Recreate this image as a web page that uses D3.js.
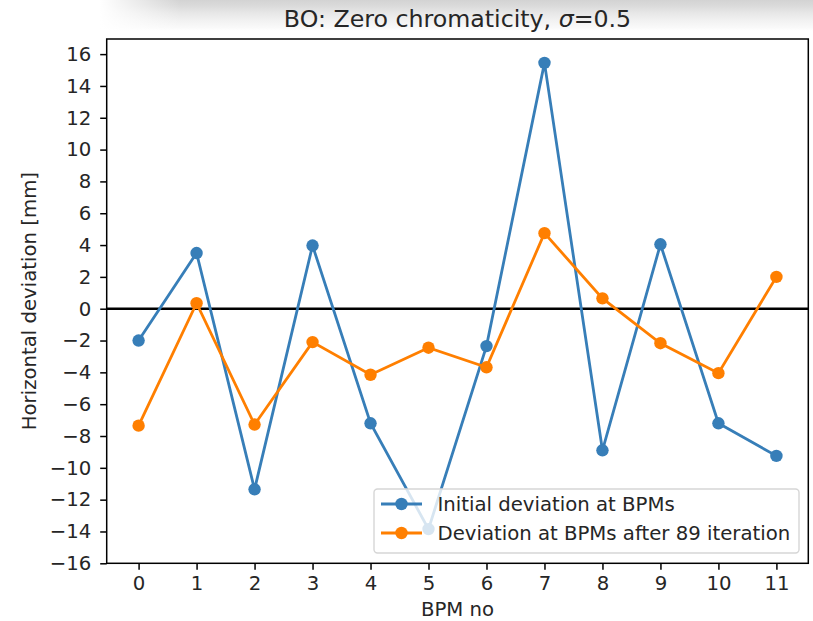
<!DOCTYPE html>
<meta charset="utf-8">
<style>

body {
  margin: 0;
  background: #fff;
}

text {
  font-family: "DejaVu Sans", sans-serif;
  fill: #262626;
}

.axis path, .axis line {
  stroke: #000;
  stroke-width: 1.5px;
}

</style>
<body>
</body>
<script src="https://cdn.jsdelivr.net/npm/d3@7"></script>
<script>

var bpm = [0, 1, 2, 3, 4, 5, 6, 7, 8, 9, 10, 11];
var initial = [-2.0, 3.5, -11.35, 3.97, -7.2, -13.85, -2.35, 15.45, -8.9, 4.05, -7.2, -9.25];
var after = [-7.35, 0.35, -7.28, -2.1, -4.15, -2.45, -3.68, 4.75, 0.65, -2.17, -4.05, 2.0];
var yTicks = [-16, -14, -12, -10, -8, -6, -4, -2, 0, 2, 4, 6, 8, 10, 12, 14, 16];
var seriesNames = ["Initial deviation at BPMs", "Deviation at BPMs after 89 iteration"];
var colors = ["#377eb8", "#ff7f00"];

var w = 813,
    h = 621,
    x0 = 106.7,
    x1 = 808.3,
    y0 = 39,
    y1 = 563.3,
    fs = "19.7px";

var svg = d3.select("body").append("svg")
    .attr("width", w)
    .attr("height", h);

// grey band at the top of the screenshot
var defs = svg.append("defs");
var vg = defs.append("linearGradient").attr("id", "vg")
    .attr("x1", 0).attr("y1", 0).attr("x2", 0).attr("y2", 1);
[[0, "#d3d3d3"], [0.18, "#dadada"], [0.4, "#e6e6e6"], [0.65, "#f1f1f1"], [0.88, "#f9f9f9"], [1, "#fff"]]
  .forEach(function(s) { vg.append("stop").attr("offset", s[0]).attr("stop-color", s[1]); });
var hg = defs.append("linearGradient").attr("id", "hg")
    .attr("x1", 0).attr("y1", 0).attr("x2", 1).attr("y2", 0);
hg.append("stop").attr("offset", 0).attr("stop-color", "#fff").attr("stop-opacity", 1);
hg.append("stop").attr("offset", 1).attr("stop-color", "#fff").attr("stop-opacity", 0);

svg.append("rect").attr("x", 0).attr("y", 0).attr("width", w).attr("height", 31)
    .style("fill", "url(#vg)");
svg.append("rect").attr("x", 0).attr("y", 0).attr("width", 100).attr("height", 31)
    .style("fill", "#fff");
svg.append("rect").attr("x", 100).attr("y", 0).attr("width", 80).attr("height", 31)
    .style("fill", "url(#hg)");

var x = d3.scaleLinear().domain([-0.55, 11.55]).range([x0, x1]);
var y = d3.scaleLinear().domain([-16, 16.95]).range([y1, y0]);

svg.append("rect")
    .attr("x", x0).attr("y", y0)
    .attr("width", x1 - x0).attr("height", y1 - y0)
    .style("fill", "#fff");

// zero line
svg.append("line")
    .attr("x1", x0).attr("x2", x1)
    .attr("y1", y(0)).attr("y2", y(0))
    .style("stroke", "#000").style("stroke-width", 2.6);

var line = d3.line()
    .x(function(d, i) { return x(bpm[i]); })
    .y(function(d) { return y(d); });

[initial, after].forEach(function(s, k) {
  svg.append("path")
      .datum(s)
      .attr("d", line)
      .style("fill", "none")
      .style("stroke", colors[k])
      .style("stroke-width", 2.8);
  svg.selectAll(".pt" + k)
      .data(s)
    .enter().append("circle")
      .attr("cx", function(d, i) { return x(bpm[i]); })
      .attr("cy", function(d) { return y(d); })
      .attr("r", 6.2)
      .style("fill", colors[k]);
});

var minus = function(d) { return String(d).replace("-", "\u2212"); };

var xAxis = svg.append("g")
    .attr("class", "axis")
    .attr("transform", "translate(0," + y1 + ")")
    .call(d3.axisBottom(x).tickValues(bpm).tickSize(6.5).tickPadding(6).tickSizeOuter(0));
xAxis.select(".domain").remove();
xAxis.selectAll("text").style("font-size", fs).style("fill", "#262626")
    .style("font-family", "DejaVu Sans");

var yAxis = svg.append("g")
    .attr("class", "axis")
    .attr("transform", "translate(" + x0 + ",0)")
    .call(d3.axisLeft(y).tickValues(yTicks).tickFormat(minus).tickSize(6.5).tickPadding(9).tickSizeOuter(0));
yAxis.select(".domain").remove();
yAxis.selectAll("text").style("font-size", fs).style("fill", "#262626")
    .style("font-family", "DejaVu Sans");

// frame
svg.append("rect")
    .attr("x", x0).attr("y", y0)
    .attr("width", x1 - x0).attr("height", y1 - y0)
    .style("fill", "none").style("stroke", "#000").style("stroke-width", 1.5);

svg.append("text")
    .attr("x", (x0 + x1) / 2).attr("y", 616)
    .attr("text-anchor", "middle")
    .style("font-size", fs)
    .text("BPM no");

svg.append("text")
    .attr("transform", "translate(36," + (y0 + y1) / 2 + ") rotate(-90)")
    .attr("text-anchor", "middle")
    .style("font-size", fs)
    .text("Horizontal deviation [mm]");

var title = svg.append("text")
    .attr("x", (x0 + x1) / 2).attr("y", 26.5)
    .attr("text-anchor", "middle")
    .style("font-size", "23.7px");
title.append("tspan").text("BO: Zero chromaticity, ");
title.append("tspan").style("font-style", "italic").text("\u03c3");
title.append("tspan").text("=0.5");

// legend
var lg = svg.append("g");
lg.append("rect")
    .attr("x", 374).attr("y", 489)
    .attr("width", 425).attr("height", 64)
    .attr("rx", 3.5)
    .style("fill", "#fff").style("fill-opacity", 0.8)
    .style("stroke", "#d6d6d6").style("stroke-width", 1.4);

seriesNames.forEach(function(name, k) {
  var cy = 504 + k * 29;
  lg.append("line")
      .attr("x1", 381).attr("x2", 422)
      .attr("y1", cy).attr("y2", cy)
      .style("stroke", colors[k]).style("stroke-width", 2.8);
  lg.append("circle")
      .attr("cx", 401.5).attr("cy", cy).attr("r", 6.2)
      .style("fill", colors[k]);
  lg.append("text")
      .attr("x", 437.5).attr("y", cy + 7)
      .style("font-size", fs)
      .text(name);
});

</script>
